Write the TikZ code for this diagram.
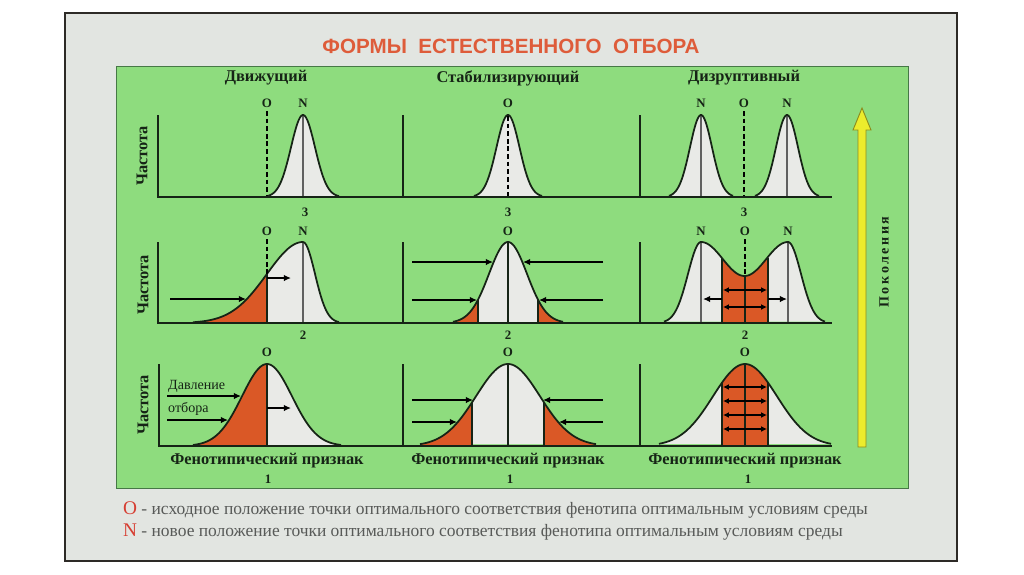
\documentclass[tikz,border=0pt]{standalone}
\usepackage{fontspec}
\setmainfont{Liberation Serif}
\newfontfamily\titlefont{Liberation Sans}
\usetikzlibrary{arrows.meta,positioning}

\definecolor{poster}{RGB}{226,229,225}
\definecolor{framedark}{RGB}{45,42,38}
\definecolor{panelgreen}{RGB}{142,220,126}
\definecolor{paneledge}{RGB}{70,120,70}
\definecolor{ink}{RGB}{22,36,22}
\definecolor{bellwhite}{RGB}{233,234,231}
\definecolor{selorange}{RGB}{218,88,38}
\definecolor{titlered}{RGB}{222,92,58}
\definecolor{legendgray}{RGB}{88,90,88}
\definecolor{legendred}{RGB}{214,62,50}
\definecolor{genyellow}{RGB}{236,236,44}
\definecolor{genolive}{RGB}{140,140,30}

\begin{document}
\begin{tikzpicture}[x=0.03cm,y=-0.03cm,
  declare function={g(\t,\m,\s)=exp(-min(((\t-\m)/\s)^2/2,20));
    skw(\t)=(\t<303)?g(\t,303,36):g(\t,303,12);
    dis(\t)=(\t<701)?81*g(\t,701,13):((\t>788)?81*g(\t,788,13):81-34*pow(sin(2.069*(\t-701)),2));},
  axisline/.style={draw=ink, line width=1.7pt},
  bell/.style={draw=ink, line width=1.5pt},
  cutline/.style={draw=ink, line width=1.3pt},
  nline/.style={draw=gray!75!black, line width=1pt},
  oline/.style={draw=black, line width=1.4pt, dash pattern=on 4pt off 2.5pt},
  press/.style={-{Latex[length=6pt,width=5.5pt]}, line width=1.3pt, draw=black},
  twoway/.style={{Latex[length=5pt,width=5pt]}-{Latex[length=5pt,width=5pt]}, line width=1.1pt, draw=black},
  ptlabel/.style={font=\fontsize{11}{12}\selectfont\bfseries, text=ink, inner sep=0pt},
  head/.style={font=\fontsize{14}{15}\selectfont\bfseries, text=ink},
  axislabel/.style={font=\fontsize{14}{15}\selectfont\bfseries, text=ink, rotate=90},
  trait/.style={font=\fontsize{14}{15}\selectfont\bfseries, text=ink},
  legend/.style={font=\fontsize{14.9}{16}\selectfont, text=legendgray, anchor=west}]

\fill[white] (0,0) rectangle (1024,574);
\filldraw[fill=poster, draw=framedark, line width=2.5pt] (65,13) rectangle (957,561);
\filldraw[fill=panelgreen, draw=paneledge, line width=0.8pt] (116,66) rectangle (908,488);

\node[font=\titlefont\fontsize{17.6}{19}\selectfont\bfseries, text=titlered] (title) at (511,46) {ФОРМЫ\ \ ЕСТЕСТВЕННОГО\ \ ОТБОРА};

\node[head] (hdrive) at (266,78) {Движущий};
\node[head] (hstab) at (508,78) {Стабилизирующий};
\node[head] (hdisr) at (744,78) {Дизруптивный};

% generation 3
\fill[bellwhite] plot[domain=267:339,samples=60] (\x,{197-82*g(\x,303,12)}) -- cycle;
\fill[bellwhite] plot[domain=474:542,samples=60] (\x,{197-82*g(\x,508,11.5)}) -- cycle;
\fill[bellwhite] plot[domain=669:733,samples=60] (\x,{197-82*g(\x,701,11)}) -- cycle;
\fill[bellwhite] plot[domain=755:819,samples=60] (\x,{197-82*g(\x,787,11)}) -- cycle;
\draw[nline] (303,115) -- (303,197);
\draw[nline] (701,115) -- (701,197);
\draw[nline] (787,115) -- (787,197);
\draw[bell] plot[domain=267:339,samples=60] (\x,{197-82*g(\x,303,12)});
\draw[bell] plot[domain=474:542,samples=60] (\x,{197-82*g(\x,508,11.5)});
\draw[bell] plot[domain=669:733,samples=60] (\x,{197-82*g(\x,701,11)});
\draw[bell] plot[domain=755:819,samples=60] (\x,{197-82*g(\x,787,11)});
\draw[oline] (267,111) -- (267,197);
\draw[oline] (508,116) -- (508,197);
\draw[oline] (744,111) -- (744,197);
\draw[axisline] (158,115) -- (158,197) -- (832,197);
\draw[axisline] (403,115) -- (403,197);
\draw[axisline] (640,115) -- (640,197);
\node[ptlabel] (o3a) at (267,103) {O};
\node[ptlabel] (n3a) at (303,103) {N};
\node[ptlabel] (o3b) at (508,103) {O};
\node[ptlabel] (n3c) at (701,103) {N};
\node[ptlabel] (o3c) at (744,103) {O};
\node[ptlabel] (m3c) at (787,103) {N};
\node[ptlabel] (g3a) at (305,212) {3};
\node[ptlabel] (g3b) at (508,212) {3};
\node[ptlabel] (g3c) at (744,212) {3};
\node[axislabel] (f3) at (142,156) {Частота};

% generation 2
\fill[bellwhite] plot[domain=193:339,samples=90] (\x,{323-81*skw(\x)}) -- cycle;
\fill[selorange] (193,323) -- plot[domain=193:267,samples=50] (\x,{323-81*skw(\x)}) -- (267,323) -- cycle;
\fill[bellwhite] plot[domain=453:563,samples=80] (\x,{323-81*g(\x,508,19)}) -- cycle;
\fill[selorange] (453,323) -- plot[domain=453:478,samples=30] (\x,{323-81*g(\x,508,19)}) -- (478,323) -- cycle;
\fill[selorange] (538,323) -- plot[domain=538:563,samples=30] (\x,{323-81*g(\x,508,19)}) -- (563,323) -- cycle;
\fill[bellwhite] plot[domain=664:825,samples=120] (\x,{323-dis(\x)}) -- cycle;
\fill[selorange] (722,323) -- plot[domain=722:768,samples=40] (\x,{323-dis(\x)}) -- (768,323) -- cycle;
\draw[nline] (303,242) -- (303,323);
\draw[nline] (701,242) -- (701,323);
\draw[nline] (788,242) -- (788,323);
\draw[cutline] (267,274) -- (267,323);
\draw[cutline] (478,300) -- (478,323);
\draw[cutline] (538,300) -- (538,323);
\draw[cutline] (508,242) -- (508,323);
\draw[cutline] (722,258) -- (722,323);
\draw[cutline] (768,258) -- (768,323);
\draw[cutline, line width=1.8pt] (745,276) -- (745,323);
\draw[bell] plot[domain=193:339,samples=90] (\x,{323-81*skw(\x)});
\draw[bell] plot[domain=453:563,samples=80] (\x,{323-81*g(\x,508,19)});
\draw[bell] plot[domain=664:825,samples=120] (\x,{323-dis(\x)});
\draw[oline] (267,239) -- (267,274);
\draw[oline] (745,239) -- (745,276);
\draw[press] (170,299) -- (246,299);
\draw[press] (267,278) -- (291,278);
\draw[press] (412,262) -- (493,262);
\draw[press] (412,300) -- (477,300);
\draw[press] (603,262) -- (523,262);
\draw[press] (603,300) -- (539,300);
\draw[twoway] (723,290) -- (767,290);
\draw[twoway] (723,307) -- (767,307);
\draw[press] (722,299) -- (703,299);
\draw[press] (768,299) -- (787,299);
\draw[axisline] (158,242) -- (158,323) -- (832,323);
\draw[axisline] (403,242) -- (403,323);
\draw[axisline] (640,242) -- (640,323);
\node[ptlabel] (o2a) at (267,231) {O};
\node[ptlabel] (n2a) at (303,231) {N};
\node[ptlabel] (o2b) at (508,231) {O};
\node[ptlabel] (n2c) at (701,231) {N};
\node[ptlabel] (o2c) at (745,231) {O};
\node[ptlabel] (m2c) at (788,231) {N};
\node[ptlabel] (g2a) at (303,335) {2};
\node[ptlabel] (g2b) at (508,335) {2};
\node[ptlabel] (g2c) at (745,335) {2};
\node[axislabel] (f2) at (143,285) {Частота};

% generation 1
\fill[bellwhite] plot[domain=193:341,samples=90] (\x,{446-82*g(\x,267,25)}) -- cycle;
\fill[selorange] (193,446) -- plot[domain=193:267,samples=50] (\x,{446-82*g(\x,267,25)}) -- (267,446) -- cycle;
\fill[bellwhite] plot[domain=420:596,samples=90] (\x,{446-82*g(\x,508,32)}) -- cycle;
\fill[selorange] (420,446) -- plot[domain=420:472,samples=40] (\x,{446-82*g(\x,508,32)}) -- (472,446) -- cycle;
\fill[selorange] (544,446) -- plot[domain=544:596,samples=40] (\x,{446-82*g(\x,508,32)}) -- (596,446) -- cycle;
\fill[bellwhite] plot[domain=659:831,samples=90] (\x,{446-82*g(\x,745,32)}) -- cycle;
\fill[selorange] (722,446) -- plot[domain=722:768,samples=40] (\x,{446-82*g(\x,745,32)}) -- (768,446) -- cycle;
\draw[cutline] (267,364) -- (267,446);
\draw[cutline] (508,364) -- (508,446);
\draw[cutline] (472,403) -- (472,446);
\draw[cutline] (544,403) -- (544,446);
\draw[cutline] (722,383) -- (722,446);
\draw[cutline] (768,383) -- (768,446);
\draw[cutline] (745,364) -- (745,446);
\draw[bell] plot[domain=193:341,samples=90] (\x,{446-82*g(\x,267,25)});
\draw[bell] plot[domain=420:596,samples=90] (\x,{446-82*g(\x,508,32)});
\draw[bell] plot[domain=659:831,samples=90] (\x,{446-82*g(\x,745,32)});
\draw[press] (167,396) -- (241,396);
\draw[press] (167,420) -- (228,420);
\draw[press] (267,408) -- (291,408);
\draw[press] (412,400) -- (473,400);
\draw[press] (412,422) -- (457,422);
\draw[press] (603,400) -- (543,400);
\draw[press] (603,422) -- (559,422);
\foreach \yy in {387,401,415,429}
  \draw[twoway] (723,\yy) -- (767,\yy);
\draw[axisline] (159,364) -- (159,446) -- (832,446);
\draw[axisline] (403,364) -- (403,446);
\draw[axisline] (640,364) -- (640,446);
\node[ptlabel] (o1a) at (267,352) {O};
\node[ptlabel] (o1b) at (508,352) {O};
\node[ptlabel] (o1c) at (745,352) {O};
\node[font=\fontsize{12}{13}\selectfont, text=ink, anchor=west, inner sep=0pt] (press1) at (168,386) {Давление};
\node[font=\fontsize{12}{13}\selectfont, text=ink, anchor=west, inner sep=0pt] (press2) at (168,409) {отбора};
\node[axislabel] (f1) at (143,405) {Частота};
\node[trait] (ta) at (267,461) {Фенотипический признак};
\node[trait] (tb) at (508,461) {Фенотипический признак};
\node[trait] (tc) at (745,461) {Фенотипический признак};
\node[ptlabel] (g1a) at (268,479) {1};
\node[ptlabel] (g1b) at (510,479) {1};
\node[ptlabel] (g1c) at (748,479) {1};

% generations arrow
\filldraw[fill=genyellow, draw=genolive, line width=0.8pt] (858,447) -- (858,130) -- (853,130) -- (862,108) -- (871,130) -- (866,130) -- (866,447) -- cycle;
\node[font=\fontsize{12}{13}\selectfont\bfseries\addfontfeature{LetterSpace=18}, text=ink, rotate=90] (gen) at (884,262) {Поколения};

\node[legend] (lego) at (119,510) {{\color{legendred}\fontsize{16.5}{16}\selectfont O} - исходное положение точки оптимального соответствия фенотипа оптимальным условиям среды};
\node[legend] (legn) at (119,532) {{\color{legendred}\fontsize{16.5}{16}\selectfont N} - новое положение точки оптимального соответствия фенотипа оптимальным условиям среды};
\end{tikzpicture}
\end{document}
